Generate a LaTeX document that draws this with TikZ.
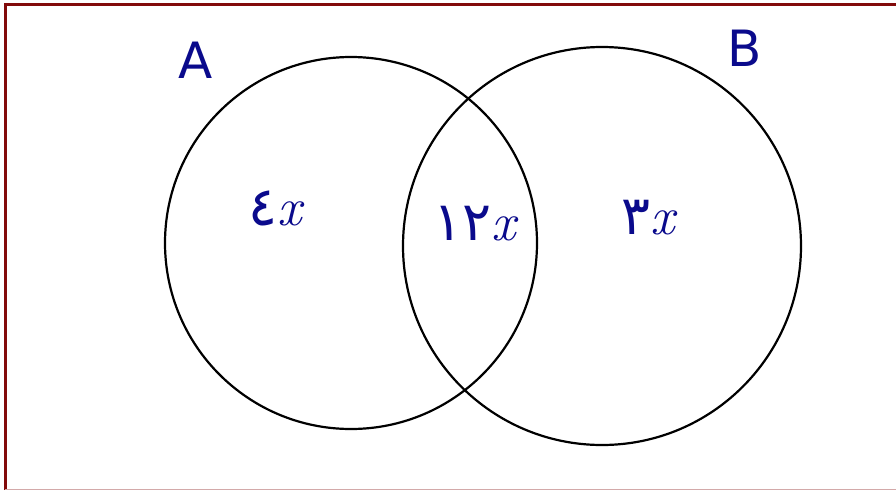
\documentclass[tikz,border=0pt]{standalone}
\usepackage{fontspec}
\newfontfamily\arabicfont[Script=Arabic]{DejaVu Sans}
\newfontfamily\hand{DejaVu Sans}
\definecolor{ink}{RGB}{10,10,140}
\definecolor{frame}{RGB}{130,10,10}
\tikzset{
  setcircle/.style={draw=black, line width=2.2pt},
  setlabel/.style={text=ink, font=\hand\fontsize{50}{50}\selectfont},
  region/.style={text=ink, font=\fontsize{54}{54}\selectfont},
}
\newcommand{\vx}{\textit{x}}
\begin{document}
\begin{tikzpicture}[x=1pt,y=-1pt]
\useasboundingbox (0,0) rectangle (896,490);
\fill[white] (0,0) rectangle (896,490);
\draw[frame, line width=3pt] (896,4) -- (5,4) -- (5,490);
\draw[frame!35, line width=1pt] (5,489) -- (896,489);
\node[setcircle, circle, minimum size=372pt, inner sep=0pt] (cA) at (351,243) {};
\node[setcircle, circle, minimum size=398pt, inner sep=0pt] (cB) at (602,246) {};
\node[setlabel] (lA) at (196,60) {A};
\node[setlabel] (lB) at (745,48) {B};
\node[region] (rA) at (277,208) {{\arabicfont ٤}\vx};
\node[region] (rAB) at (476,224) {{\arabicfont ١٢}\vx};
\node[region] (rB) at (650,218) {{\arabicfont ٣}\vx};
\end{tikzpicture}
\end{document}
